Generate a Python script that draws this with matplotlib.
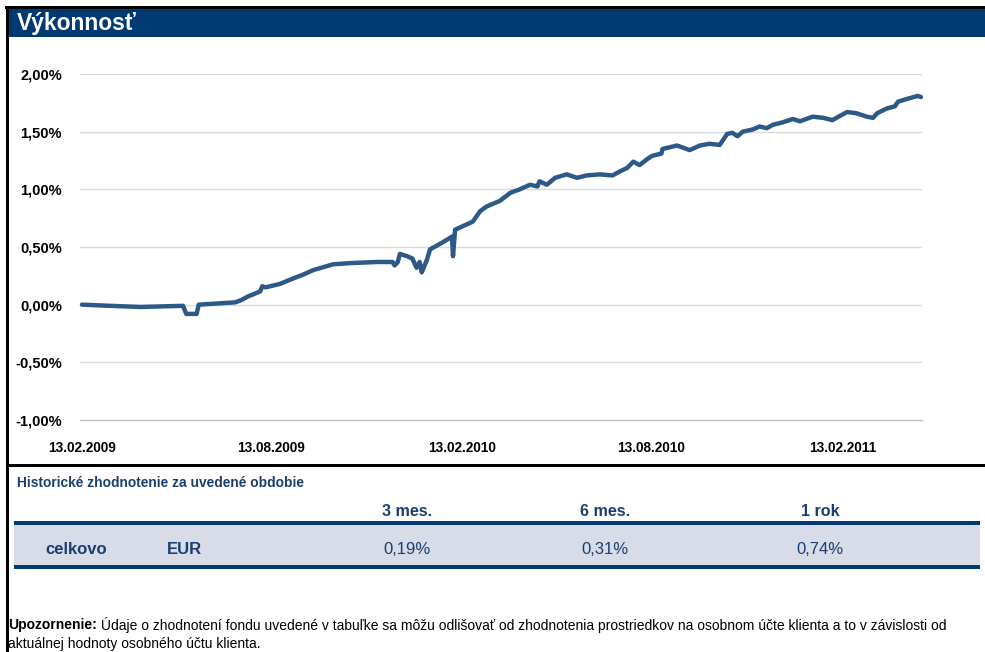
import numpy as np
import pandas as pd
import matplotlib
matplotlib.use("Agg")
import matplotlib.pyplot as plt
import matplotlib.dates as mdates
from matplotlib.patches import Rectangle
from matplotlib.ticker import FuncFormatter

plt.rcParams['font.family'] = ['Liberation Sans', 'DejaVu Sans']

# performance series (cumulative return in %)
dates = ["2009-02-13", "2009-03-12", "2009-04-10", "2009-05-21", "2009-05-24",
         "2009-06-03", "2009-06-05", "2009-07-10", "2009-07-16", "2009-07-22",
         "2009-08-03", "2009-08-05", "2009-08-08", "2009-08-22", "2009-09-03",
         "2009-09-13", "2009-09-23", "2009-10-12", "2009-10-28", "2009-11-23",
         "2009-12-08", "2009-12-10", "2009-12-13", "2009-12-15", "2009-12-22",
         "2009-12-27", "2009-12-31", "2010-01-03", "2010-01-05", "2010-01-10",
         "2010-01-13", "2010-01-25", "2010-02-03", "2010-02-04", "2010-02-06",
         "2010-02-23", "2010-03-02", "2010-03-08", "2010-03-21", "2010-03-31",
         "2010-04-09", "2010-04-19", "2010-04-26", "2010-04-28", "2010-05-05",
         "2010-05-13", "2010-05-24", "2010-06-03", "2010-06-12", "2010-06-25",
         "2010-07-07", "2010-07-14", "2010-07-21", "2010-07-27", "2010-08-02",
         "2010-08-09", "2010-08-14", "2010-08-23", "2010-08-24", "2010-09-07",
         "2010-09-19", "2010-09-29", "2010-10-08", "2010-10-18", "2010-10-25",
         "2010-10-30", "2010-11-04", "2010-11-09", "2010-11-19", "2010-11-25",
         "2010-12-02", "2010-12-08", "2010-12-17", "2010-12-27", "2011-01-03",
         "2011-01-15", "2011-01-25", "2011-02-03", "2011-02-17", "2011-02-26",
         "2011-03-08", "2011-03-14", "2011-03-18", "2011-03-27", "2011-04-04",
         "2011-04-07", "2011-04-18", "2011-04-26", "2011-04-29"]
values = [0.00, -0.01, -0.02, -0.01, -0.08,
          -0.08, 0.00, 0.02, 0.04, 0.07,
          0.115, 0.16, 0.15, 0.18, 0.225,
          0.26, 0.30, 0.35, 0.36, 0.37,
          0.37, 0.34, 0.37, 0.44, 0.42,
          0.40, 0.32, 0.37, 0.28, 0.39,
          0.48, 0.54, 0.59, 0.42, 0.65,
          0.72, 0.81, 0.85, 0.90, 0.97,
          1.00, 1.04, 1.025, 1.07, 1.04,
          1.10, 1.13, 1.10, 1.12, 1.13,
          1.12, 1.155, 1.185, 1.24, 1.21,
          1.26, 1.29, 1.31, 1.35, 1.38,
          1.34, 1.38, 1.395, 1.385, 1.48,
          1.49, 1.46, 1.50, 1.52, 1.545,
          1.53, 1.56, 1.58, 1.61, 1.59,
          1.63, 1.62, 1.60, 1.67, 1.66,
          1.63, 1.62, 1.66, 1.70, 1.72,
          1.76, 1.79, 1.81, 1.80]
x_ticks = ["2009-02-13", "2009-08-13", "2010-02-13", "2010-08-13", "2011-02-13"]
y_ticks = [-1.0, -0.5, 0.0, 0.5, 1.0, 1.5, 2.0]

# table below the chart
title = "Výkonnosť"
table_title = "Historické zhodnotenie za uvedené obdobie"
periods = ["3 mes.", "6 mes.", "1 rok"]
row_label = "celkovo"
currency = "EUR"
returns = ["0,19%", "0,31%", "0,74%"]
note_bold = "Upozornenie:"
note_line1 = (" Údaje o zhodnotení fondu uvedené v tabuľke sa môžu odlišovať od zhodnotenia "
              "prostriedkov na osobnom účte klienta a to v závislosti od")
note_line2 = "aktuálnej hodnoty osobného účtu klienta."

navy = "#003A70"
text_blue = "#1A3F6F"
line_col = "#2D5987"

W, H = 985, 652
fig = plt.figure(figsize=(W / 100, H / 100), dpi=100)

# background layer in pixel coordinates
bg = fig.add_axes([0, 0, 1, 1])
bg.set_xlim(0, W)
bg.set_ylim(H, 0)
bg.axis("off")

bg.add_patch(Rectangle((5, 6), W - 5, 3.3, color="black", lw=0))
bg.add_patch(Rectangle((6, 6), 3, H - 6, color="black", lw=0))
bg.add_patch(Rectangle((9, 9.3), W - 9, 28, color=navy, lw=0))
bg.text(17, 23.5, title, color="white", fontsize=16.5, fontweight="bold", va="center", ha="left")

bg.add_patch(Rectangle((8, 464), W - 8, 3, color="black", lw=0))

bg.text(17, 483, table_title, color=text_blue, fontsize=9.9, fontweight="bold", va="center", ha="left")

col_x = [407, 605, 820]
for cx, p in zip(col_x, periods):
    bg.text(cx, 511, p, color=text_blue, fontsize=11.6, fontweight="bold", va="center", ha="center")

bg.add_patch(Rectangle((14, 525), 966, 40, color="#D8DBE8", lw=0))
bg.add_patch(Rectangle((14, 521), 966, 4, color=navy, lw=0))
bg.add_patch(Rectangle((14, 565), 966, 4, color=navy, lw=0))

bg.text(45, 550, row_label, color=text_blue, fontsize=12, fontweight="bold", va="center", ha="left")
bg.text(167, 550, currency, color=text_blue, fontsize=12, fontweight="bold", va="center", ha="left")
for cx, r in zip(col_x, returns):
    bg.text(cx, 550, r, color=text_blue, fontsize=12, va="center", ha="center")

t1 = bg.text(8, 625, note_bold, color="black", fontsize=10, fontweight="bold", va="center", ha="left")
fig.canvas.draw()
bb = t1.get_window_extent()
x_after = bb.x1
bg.text(x_after, H - 625, note_line1, color="black", fontsize=10, va="center", ha="left",
        transform=None)
bg.text(8, 644, note_line2, color="black", fontsize=10, va="center", ha="left")

# chart
ax = fig.add_axes([80 / W, (H - 420) / H, (922 - 80) / W, (420 - 74) / H])
ax.set_facecolor("none")
d = pd.to_datetime(dates)
ax.plot(d, values, color=line_col, lw=3.2, solid_joinstyle="round", solid_capstyle="round",
        clip_on=False, zorder=3)

start = pd.Timestamp(dates[0])
ax.set_xlim(start - pd.Timedelta(days=1.9), start + pd.Timedelta(days=806))
ax.set_ylim(-1.0, 2.0)
ax.set_yticks(y_ticks)
ax.yaxis.set_major_formatter(FuncFormatter(lambda v, p: f"{v:.2f}".replace(".", ",") + "%"))
ax.set_xticks(pd.to_datetime(x_ticks))
ax.xaxis.set_major_formatter(mdates.DateFormatter("%d.%m.%Y"))

ax.grid(axis="y", color="#D9D9D9", lw=1.0)
ax.set_axisbelow(True)
for s in ["top", "right", "left"]:
    ax.spines[s].set_visible(False)
ax.spines["bottom"].set_color("#BFBFBF")
ax.spines["bottom"].set_linewidth(1.0)
ax.tick_params(axis="both", length=0)
ax.tick_params(axis="y", pad=13, labelsize=10.5)
ax.tick_params(axis="x", pad=15, labelsize=9.8)
for lbl in ax.get_xticklabels() + ax.get_yticklabels():
    lbl.set_fontweight("bold")

fig.savefig("out.png", dpi=100)
